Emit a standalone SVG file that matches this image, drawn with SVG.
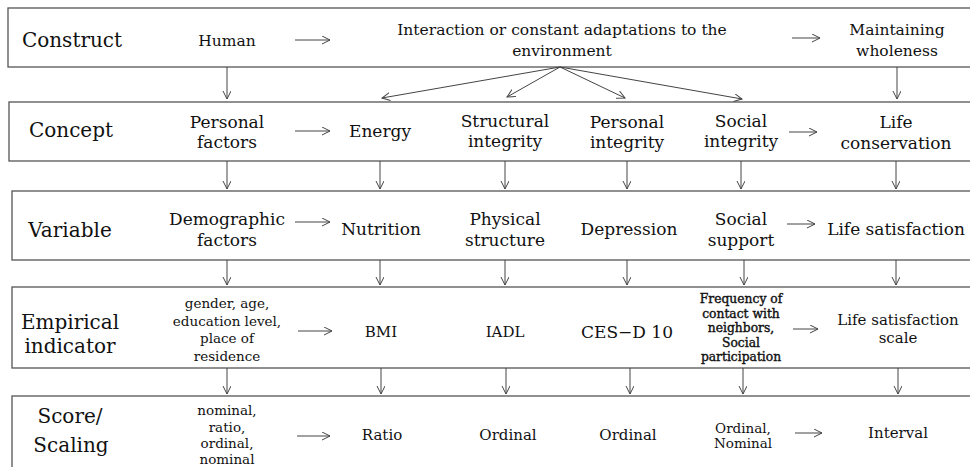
<svg xmlns="http://www.w3.org/2000/svg" width="970" height="467" viewBox="0 0 970 467">
<style>
text{font-family:"DejaVu Serif","Liberation Serif",serif;fill:#111;text-anchor:middle}
.lab{font-size:20px}
.n16{font-size:15.5px}
.n17{font-size:17px}
.n15{font-size:15px}
.sm{font-size:13.5px}
.bs{font-size:12.3px;stroke:#111;stroke-width:0.4}
.box{fill:#fff;stroke:#555;stroke-width:1.3}
.c line{stroke:#444;stroke-width:1;marker-end:url(#ah)}
</style>
<defs>
<marker id="ah" markerUnits="userSpaceOnUse" markerWidth="12" markerHeight="12" refX="8" refY="4" orient="auto">
<path d="M0,0 L8,4 L0,8" fill="none" stroke="#444" stroke-width="1"/>
</marker>
</defs>
<rect width="970" height="467" fill="#fff"/>

<g id="row-construct">
<rect class="box" x="8" y="8" width="970" height="59"/>
<text class="lab" x="72" y="47">Construct</text>
</g>
<g id="human"><text class="n16" x="227" y="46">Human</text></g>
<g id="interaction"><text class="n16" x="562" y="35">Interaction or constant adaptations to the</text><text class="n16" x="562" y="56">environment</text></g>
<g id="wholeness"><text class="n16" x="897" y="35">Maintaining</text><text class="n16" x="897" y="56">wholeness</text></g>

<g id="row-concept">
<rect class="box" x="9" y="102" width="970" height="59"/>
<text class="lab" x="71" y="137">Concept</text>
</g>
<g id="personal-factors"><text class="n17" x="227" y="128">Personal</text><text class="n17" x="227" y="148">factors</text></g>
<g id="energy"><text class="n17" x="380" y="137">Energy</text></g>
<g id="structural-integrity"><text class="n17" x="505" y="127">Structural</text><text class="n17" x="505" y="147">integrity</text></g>
<g id="personal-integrity"><text class="n17" x="627" y="128">Personal</text><text class="n17" x="627" y="148">integrity</text></g>
<g id="social-integrity"><text class="n17" x="741" y="127">Social</text><text class="n17" x="741" y="147">integrity</text></g>
<g id="life-conservation"><text class="n17" x="896" y="128">Life</text><text class="n17" x="896" y="149">conservation</text></g>

<g id="row-variable">
<rect class="box" x="12" y="191" width="970" height="69"/>
<text class="lab" x="70" y="237">Variable</text>
</g>
<g id="demographic"><text class="n17" x="227" y="225">Demographic</text><text class="n17" x="227" y="246">factors</text></g>
<g id="nutrition"><text class="n17" x="381" y="235">Nutrition</text></g>
<g id="physical"><text class="n17" x="505" y="225">Physical</text><text class="n17" x="505" y="246">structure</text></g>
<g id="depression"><text class="n17" x="629" y="235">Depression</text></g>
<g id="social-support"><text class="n17" x="741" y="225">Social</text><text class="n17" x="741" y="246">support</text></g>
<g id="life-satisfaction"><text class="n17" x="896" y="235">Life satisfaction</text></g>

<g id="row-empirical">
<rect class="box" x="12" y="287" width="970" height="81"/>
<text class="lab" x="70" y="329">Empirical</text>
<text class="lab" x="70" y="353">indicator</text>
</g>
<g id="demo-indicators"><text class="sm" x="227" y="308">gender, age,</text><text class="sm" x="227" y="326">education level,</text><text class="sm" x="227" y="343">place of</text><text class="sm" x="227" y="361">residence</text></g>
<g id="bmi"><text class="n15" x="381" y="337">BMI</text></g>
<g id="iadl"><text class="n15" x="505" y="337">IADL</text></g>
<g id="cesd"><text class="n17" x="627" y="338">CES−D 10</text></g>
<g id="contact"><text class="bs" x="741" y="303">Frequency of</text><text class="bs" x="741" y="318">contact with</text><text class="bs" x="741" y="332">neighbors,</text><text class="bs" x="741" y="347">Social</text><text class="bs" x="741" y="361">participation</text></g>
<g id="ls-scale"><text class="n15" x="898" y="325">Life satisfaction</text><text class="n15" x="898" y="343">scale</text></g>

<g id="row-score">
<rect class="box" x="12" y="396" width="970" height="80"/>
<text class="lab" x="70" y="423">Score/</text>
<text class="lab" x="71" y="452">Scaling</text>
</g>
<g id="s-demo"><text class="sm" x="227" y="415">nominal,</text><text class="sm" x="227" y="432">ratio,</text><text class="sm" x="227" y="448">ordinal,</text><text class="sm" x="227" y="464">nominal</text></g>
<g id="s-ratio"><text class="n15" x="382" y="440">Ratio</text></g>
<g id="s-ordinal1"><text class="n15" x="508" y="440">Ordinal</text></g>
<g id="s-ordinal2"><text class="n15" x="628" y="440">Ordinal</text></g>
<g id="s-ordnom"><text class="sm" x="743" y="433">Ordinal,</text><text class="sm" x="743" y="448">Nominal</text></g>
<g id="s-interval"><text class="n15" x="898" y="438">Interval</text></g>

<g id="connectors" class="c">
<line x1="295" y1="40" x2="330" y2="40"/>
<line x1="792" y1="38" x2="820" y2="38"/>
<line x1="227" y1="67" x2="227" y2="99"/>
<line x1="897" y1="67" x2="897" y2="99"/>
<line x1="560" y1="67" x2="382" y2="98"/>
<line x1="560" y1="67" x2="507" y2="97"/>
<line x1="560" y1="67" x2="625" y2="98"/>
<line x1="560" y1="67" x2="742" y2="99"/>

<line x1="295" y1="131" x2="330" y2="131"/>
<line x1="789" y1="132" x2="817" y2="132"/>
<line x1="227" y1="161" x2="227" y2="189"/>
<line x1="380" y1="161" x2="380" y2="189"/>
<line x1="505" y1="161" x2="505" y2="189"/>
<line x1="627" y1="161" x2="627" y2="189"/>
<line x1="741" y1="161" x2="741" y2="189"/>
<line x1="896" y1="161" x2="896" y2="189"/>

<line x1="295" y1="222" x2="330" y2="222"/>
<line x1="787" y1="224" x2="815" y2="224"/>
<line x1="227" y1="260" x2="227" y2="285"/>
<line x1="380" y1="260" x2="380" y2="285"/>
<line x1="505" y1="260" x2="505" y2="285"/>
<line x1="627" y1="260" x2="627" y2="285"/>
<line x1="744" y1="260" x2="744" y2="285"/>
<line x1="896" y1="260" x2="896" y2="285"/>

<line x1="298" y1="331" x2="332" y2="331"/>
<line x1="793" y1="329" x2="818" y2="329"/>
<line x1="227" y1="368" x2="227" y2="394"/>
<line x1="381" y1="368" x2="381" y2="394"/>
<line x1="506" y1="368" x2="506" y2="394"/>
<line x1="630" y1="368" x2="630" y2="394"/>
<line x1="743" y1="368" x2="743" y2="394"/>
<line x1="898" y1="368" x2="898" y2="394"/>

<line x1="297" y1="436" x2="330" y2="436"/>
<line x1="795" y1="433" x2="822" y2="433"/>
</g>
</svg>
